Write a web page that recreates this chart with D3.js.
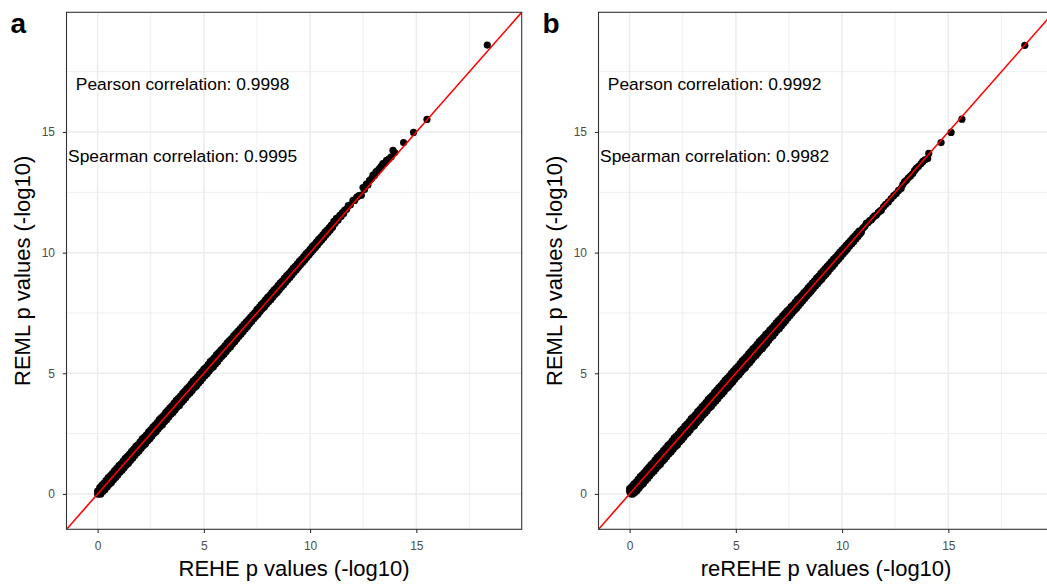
<!DOCTYPE html>
<meta charset="utf-8">
<script src="https://d3js.org/d3.v7.min.js"></script>
<style>
  body { margin: 0; background: #fff; }
  text { font-family: "Liberation Sans", Arial, sans-serif; }
</style>
<div id="chart"></div>
<script>

// -log10 p values (REHE / reREHE on x, REML on y)
var pointsA = [
  // bottom corner
  [0.00,0.00],[0.08,0.00],[0.00,0.12],[0.05,0.05],
  // dense part, upper edge of the band
  [0.10,0.26],[0.20,0.37],[0.30,0.45],[0.40,0.56],[0.50,0.68],[0.60,0.76],[0.70,0.85],[0.80,0.97],
  [0.90,1.06],[1.00,1.17],[1.10,1.25],[1.20,1.36],[1.30,1.48],[1.40,1.56],[1.50,1.65],[1.60,1.77],
  [1.70,1.86],[1.80,1.97],[1.90,2.05],[2.00,2.16],[2.10,2.28],[2.20,2.36],[2.30,2.45],[2.40,2.57],
  [2.50,2.66],[2.60,2.77],[2.70,2.85],[2.80,2.96],[2.90,3.08],[3.00,3.16],[3.10,3.25],[3.20,3.37],
  [3.30,3.46],[3.40,3.57],[3.50,3.65],[3.60,3.76],[3.70,3.88],[3.80,3.96],[3.90,4.05],[4.00,4.17],
  [4.10,4.26],[4.20,4.37],[4.30,4.45],[4.40,4.56],[4.50,4.68],[4.60,4.76],[4.70,4.85],[4.80,4.97],
  [4.90,5.06],[5.00,5.17],[5.10,5.25],[5.20,5.36],[5.30,5.48],[5.40,5.56],[5.50,5.65],[5.60,5.77],
  [5.70,5.86],[5.80,5.96],[5.90,6.04],[6.00,6.15],[6.10,6.26],[6.20,6.35],[6.30,6.44],[6.40,6.55],
  [6.50,6.64],[6.60,6.74],[6.70,6.83],[6.80,6.94],[6.90,7.04],[7.00,7.13],[7.10,7.22],[7.20,7.33],
  [7.30,7.42],[7.40,7.52],
  // dense part, lower edge of the band
  [0.15,0.00],[0.25,0.10],[0.35,0.18],[0.45,0.29],[0.55,0.40],[0.65,0.47],[0.75,0.59],[0.85,0.68],
  [0.95,0.79],[1.05,0.90],[1.15,0.98],[1.25,1.09],[1.35,1.20],[1.45,1.27],[1.55,1.39],[1.65,1.48],
  [1.75,1.59],[1.85,1.70],[1.95,1.78],[2.05,1.89],[2.15,2.00],[2.25,2.07],[2.35,2.19],[2.45,2.28],
  [2.55,2.39],[2.65,2.50],[2.75,2.58],[2.85,2.69],[2.95,2.80],[3.05,2.87],[3.15,2.99],[3.25,3.08],
  [3.35,3.19],[3.45,3.30],[3.55,3.38],[3.65,3.49],[3.75,3.60],[3.85,3.67],[3.95,3.79],[4.05,3.88],
  [4.15,3.99],[4.25,4.10],[4.35,4.18],[4.45,4.29],[4.55,4.40],[4.65,4.47],[4.75,4.59],[4.85,4.68],
  [4.95,4.79],[5.05,4.90],[5.15,4.98],[5.25,5.09],[5.35,5.20],[5.45,5.27],[5.55,5.39],[5.65,5.48],
  [5.75,5.60],[5.85,5.71],[5.95,5.79],[6.05,5.90],[6.15,6.01],[6.25,6.09],[6.35,6.21],[6.45,6.31],
  [6.55,6.42],[6.65,6.53],[6.75,6.62],[6.85,6.73],[6.95,6.84],[7.05,6.93],[7.15,7.05],[7.25,7.15],
  [7.35,7.26],[7.45,7.36],
  // thinner part, upper edge
  [7.50,7.64],[7.60,7.73],[7.70,7.85],[7.80,7.93],[7.90,8.04],[8.00,8.15],[8.10,8.23],[8.20,8.34],
  [8.30,8.45],[8.40,8.53],[8.50,8.64],[8.60,8.75],[8.70,8.83],[8.80,8.94],[8.90,9.05],[9.00,9.13],
  [9.10,9.24],[9.20,9.35],[9.30,9.43],[9.40,9.54],[9.50,9.65],[9.60,9.73],[9.70,9.84],[9.80,9.95],
  [9.90,10.03],[10.00,10.14],[10.10,10.25],[10.20,10.33],[10.30,10.44],[10.40,10.55],[10.50,10.63],
  [10.60,10.74],[10.70,10.85],[10.80,10.93],[10.90,11.04],
  // thinner part, lower edge
  [7.55,7.45],[7.65,7.56],[7.75,7.67],[7.85,7.75],[7.95,7.86],[8.05,7.97],[8.15,8.05],[8.25,8.16],
  [8.35,8.27],[8.45,8.35],[8.55,8.46],[8.65,8.57],[8.75,8.66],[8.85,8.77],[8.95,8.88],[9.05,8.97],
  [9.15,9.08],[9.25,9.19],[9.35,9.28],[9.45,9.39],[9.55,9.50],[9.65,9.59],[9.75,9.70],[9.85,9.81],
  [9.95,9.90],[10.05,10.01],[10.15,10.12],[10.25,10.21],[10.35,10.32],[10.45,10.43],[10.55,10.52],
  [10.65,10.63],[10.75,10.74],[10.85,10.83],[10.95,10.94],
  // sparse top
  [11.00,11.14],[11.06,11.05],[11.12,11.30],[11.18,11.22],[11.24,11.42],[11.32,11.35],[11.40,11.55],
  [11.46,11.50],[11.52,11.66],[11.58,11.62],[11.63,11.76],[11.72,11.80],[11.80,11.95],[11.90,11.98],
  [12.02,12.17],[12.10,12.16],[12.20,12.30],[12.30,12.36],[12.41,12.38],[12.49,12.70],[12.56,12.62],
  [12.65,12.84],[12.72,12.80],[12.80,13.00],[12.88,13.05],[12.96,13.21],[13.03,13.20],[13.10,13.35],
  [13.18,13.40],[13.27,13.49],[13.35,13.58],[13.43,13.69],[13.52,13.72],[13.60,13.82],[13.70,13.88],
  [13.82,13.97],[13.90,14.24],[13.98,14.15],[14.40,14.56],[14.87,14.98],[15.50,15.52],[18.34,18.60]
];

var pointsB = [
  // bottom corner
  [0.00,0.10],[0.08,0.00],[0.00,0.22],[0.05,0.04],
  // dense part, upper edge of the band
  [0.10,0.30],[0.20,0.41],[0.30,0.49],[0.40,0.60],[0.50,0.72],[0.60,0.80],[0.70,0.89],[0.80,1.01],
  [0.90,1.10],[1.00,1.21],[1.10,1.29],[1.20,1.40],[1.30,1.52],[1.40,1.60],[1.50,1.69],[1.60,1.81],
  [1.70,1.90],[1.80,2.01],[1.90,2.09],[2.00,2.20],[2.10,2.32],[2.20,2.40],[2.30,2.49],[2.40,2.61],
  [2.50,2.70],[2.60,2.81],[2.70,2.89],[2.80,3.00],[2.90,3.12],[3.00,3.20],[3.10,3.29],[3.20,3.41],
  [3.30,3.50],[3.40,3.61],[3.50,3.69],[3.60,3.80],[3.70,3.92],[3.80,4.00],[3.90,4.09],[4.00,4.21],
  [4.10,4.30],[4.20,4.41],[4.30,4.49],[4.40,4.60],[4.50,4.72],[4.60,4.80],[4.70,4.89],[4.80,5.01],
  [4.90,5.10],[5.00,5.21],[5.10,5.29],[5.20,5.40],[5.30,5.52],[5.40,5.60],[5.50,5.69],[5.60,5.81],
  [5.70,5.90],[5.80,6.01],[5.90,6.09],[6.00,6.20],[6.10,6.31],[6.20,6.40],[6.30,6.49],[6.40,6.60],
  [6.50,6.68],[6.60,6.79],[6.70,6.87],[6.80,6.98],[6.90,7.09],[7.00,7.18],[7.10,7.27],[7.20,7.38],
  [7.30,7.47],[7.40,7.58],[7.50,7.65],[7.60,7.76],[7.70,7.84],[7.80,7.95],[7.90,8.06],[8.00,8.14],
  [8.10,8.23],[8.20,8.34],[8.30,8.43],[8.40,8.54],[8.50,8.63],
  // dense part, lower edge of the band
  [0.15,0.00],[0.25,0.06],[0.35,0.14],[0.45,0.25],[0.55,0.36],[0.65,0.43],[0.75,0.55],[0.85,0.64],
  [0.95,0.75],[1.05,0.86],[1.15,0.94],[1.25,1.05],[1.35,1.16],[1.45,1.23],[1.55,1.35],[1.65,1.44],
  [1.75,1.55],[1.85,1.66],[1.95,1.74],[2.05,1.85],[2.15,1.96],[2.25,2.03],[2.35,2.15],[2.45,2.24],
  [2.55,2.35],[2.65,2.46],[2.75,2.54],[2.85,2.65],[2.95,2.76],[3.05,2.83],[3.15,2.95],[3.25,3.04],
  [3.35,3.15],[3.45,3.26],[3.55,3.34],[3.65,3.45],[3.75,3.56],[3.85,3.63],[3.95,3.75],[4.05,3.84],
  [4.15,3.95],[4.25,4.06],[4.35,4.14],[4.45,4.25],[4.55,4.36],[4.65,4.43],[4.75,4.55],[4.85,4.64],
  [4.95,4.75],[5.05,4.86],[5.15,4.94],[5.25,5.05],[5.35,5.16],[5.45,5.23],[5.55,5.35],[5.65,5.44],
  [5.75,5.55],[5.85,5.66],[5.95,5.74],[6.05,5.85],[6.15,5.96],[6.25,6.03],[6.35,6.15],[6.45,6.24],
  [6.55,6.37],[6.65,6.48],[6.75,6.56],[6.85,6.67],[6.95,6.78],[7.05,6.86],[7.15,6.97],[7.25,7.07],
  [7.35,7.18],[7.45,7.29],[7.55,7.39],[7.65,7.50],[7.75,7.60],[7.85,7.69],[7.95,7.80],[8.05,7.90],
  [8.15,8.01],[8.25,8.11],[8.35,8.21],[8.45,8.31],
  // thinner part, upper edge
  [8.60,8.74],[8.70,8.83],[8.80,8.94],[8.90,9.03],[9.00,9.14],[9.10,9.23],[9.20,9.34],[9.30,9.43],
  [9.40,9.53],[9.50,9.63],[9.60,9.73],[9.70,9.82],[9.80,9.92],[9.90,10.02],[10.00,10.12],[10.10,10.21],
  [10.20,10.31],[10.30,10.41],[10.40,10.50],[10.50,10.60],[10.60,10.70],[10.70,10.79],[10.80,10.89],
  // thinner part, lower edge
  [8.55,8.41],[8.65,8.51],[8.75,8.62],[8.85,8.71],[8.95,8.82],[9.05,8.91],[9.15,9.02],[9.25,9.12],
  [9.35,9.22],[9.45,9.33],[9.55,9.43],[9.65,9.53],[9.75,9.64],[9.85,9.74],[9.95,9.84],[10.05,9.95],
  [10.15,10.05],[10.25,10.15],[10.35,10.26],[10.45,10.36],[10.55,10.46],[10.65,10.57],[10.75,10.67],
  [10.85,10.78],
  // sparse top
  [10.91,10.86],[10.96,11.00],[11.02,11.05],[11.08,11.10],[11.14,11.21],[11.22,11.24],[11.30,11.33],
  [11.38,11.36],[11.45,11.45],[11.53,11.52],[11.61,11.55],[11.70,11.66],[11.78,11.72],[11.85,11.76],
  [11.95,11.90],[12.05,12.00],[12.18,12.10],[12.31,12.24],[12.43,12.36],[12.55,12.45],[12.66,12.58],
  [12.78,12.66],[12.86,12.82],[12.94,12.93],[13.03,13.00],[13.12,13.10],[13.22,13.18],[13.33,13.28],
  [13.41,13.40],[13.49,13.49],[13.60,13.58],[13.72,13.69],[13.80,13.78],[13.90,13.85],[14.03,13.90],
  [14.08,14.11],[14.66,14.56],[15.13,14.98],[15.64,15.53],[18.60,18.59]
];

var panelLabels = ["a", "b"];
var xTitles = ["REHE p values (-log10)", "reREHE p values (-log10)"];
var yTitle = "REML p values (-log10)";
var pearson = ["Pearson correlation: 0.9998", "Pearson correlation: 0.9992"];
var spearman = ["Spearman correlation: 0.9995", "Spearman correlation: 0.9982"];
var majorTicks = [0, 5, 10, 15];
var minorTicks = [2.5, 7.5, 12.5, 17.5];

var W = 1047, H = 585;
var svg = d3.select("#chart").append("svg")
    .attr("width", W)
    .attr("height", H);

svg.append("rect").attr("width", W).attr("height", H).attr("fill", "#fff");

var pw = 455.2, ph = 517;
var lefts = [66.5, 598.5];
var panelTop = 12.3;
var dom = [-1.465, 19.96];

function drawPanel(i, pts) {
  var g = svg.append("g")
      .attr("transform", "translate(" + lefts[i] + "," + panelTop + ")");

  var x = d3.scaleLinear().domain(dom).range([0, pw]);
  var y = d3.scaleLinear().domain(dom).range([ph, 0]);

  // grid
  g.selectAll(".minx").data(minorTicks).enter().append("line")
      .attr("x1", d => x(d)).attr("x2", d => x(d))
      .attr("y1", 0).attr("y2", ph)
      .attr("stroke", "#ebebeb").attr("stroke-width", 0.8);
  g.selectAll(".miny").data(minorTicks).enter().append("line")
      .attr("y1", d => y(d)).attr("y2", d => y(d))
      .attr("x1", 0).attr("x2", pw)
      .attr("stroke", "#ebebeb").attr("stroke-width", 0.8);
  g.selectAll(".majx").data(majorTicks).enter().append("line")
      .attr("x1", d => x(d)).attr("x2", d => x(d))
      .attr("y1", 0).attr("y2", ph)
      .attr("stroke", "#ebebeb").attr("stroke-width", 1.5);
  g.selectAll(".majy").data(majorTicks).enter().append("line")
      .attr("y1", d => y(d)).attr("y2", d => y(d))
      .attr("x1", 0).attr("x2", pw)
      .attr("stroke", "#ebebeb").attr("stroke-width", 1.5);

  var clipId = "clip" + i;
  g.append("clipPath").attr("id", clipId)
    .append("rect").attr("width", pw).attr("height", ph);

  var plot = g.append("g").attr("clip-path", "url(#" + clipId + ")");

  plot.selectAll("circle").data(pts).enter().append("circle")
      .attr("cx", d => x(d[0]))
      .attr("cy", d => y(d[1]))
      .attr("r", 3.6)
      .attr("fill", "#000");

  // y = x reference line
  plot.append("line")
      .attr("x1", x(dom[0])).attr("y1", y(dom[0]))
      .attr("x2", x(dom[1])).attr("y2", y(dom[1]))
      .attr("stroke", "#ff0000").attr("stroke-width", 1.6);

  // correlation notes
  g.append("text").attr("x", x(4)).attr("y", y(17)).attr("dy", "0.36em")
      .attr("text-anchor", "middle").attr("font-size", 17.4).attr("fill", "#000")
      .text(pearson[i]);
  g.append("text").attr("x", x(4)).attr("y", y(14)).attr("dy", "0.36em")
      .attr("text-anchor", "middle").attr("font-size", 17.4).attr("fill", "#000")
      .text(spearman[i]);

  g.append("rect").attr("width", pw).attr("height", ph)
      .attr("fill", "none").attr("stroke", "#333").attr("stroke-width", 1.1);

  var xAxis = g.append("g")
      .attr("transform", "translate(0," + ph + ")")
      .call(d3.axisBottom(x).tickValues(majorTicks).tickSize(3.7).tickPadding(8.5));
  var yAxis = g.append("g")
      .call(d3.axisLeft(y).tickValues(majorTicks).tickSize(3.7).tickPadding(7.8));
  [xAxis, yAxis].forEach(function(a) {
    a.select(".domain").remove();
    a.selectAll(".tick line").attr("stroke", "#333").attr("stroke-width", 1.1);
    a.selectAll(".tick text").attr("fill", "#4d4d4d")
        .attr("font-size", 12)
        .style("font-family", '"Liberation Sans", Arial, sans-serif');
  });

  g.append("text")
      .attr("x", pw / 2).attr("y", 564)
      .attr("text-anchor", "middle").attr("font-size", 22).attr("fill", "#000")
      .text(xTitles[i]);

  g.append("text")
      .attr("transform", "translate(" + (-37) + "," + (ph / 2) + ") rotate(-90)")
      .attr("text-anchor", "middle").attr("font-size", 22).attr("fill", "#000")
      .text(yTitle);

  svg.append("text")
      .attr("x", lefts[i] - 56).attr("y", 33)
      .attr("font-size", 28).attr("font-weight", "bold").attr("fill", "#000")
      .text(panelLabels[i]);
}

drawPanel(0, pointsA);
drawPanel(1, pointsB);

</script>
